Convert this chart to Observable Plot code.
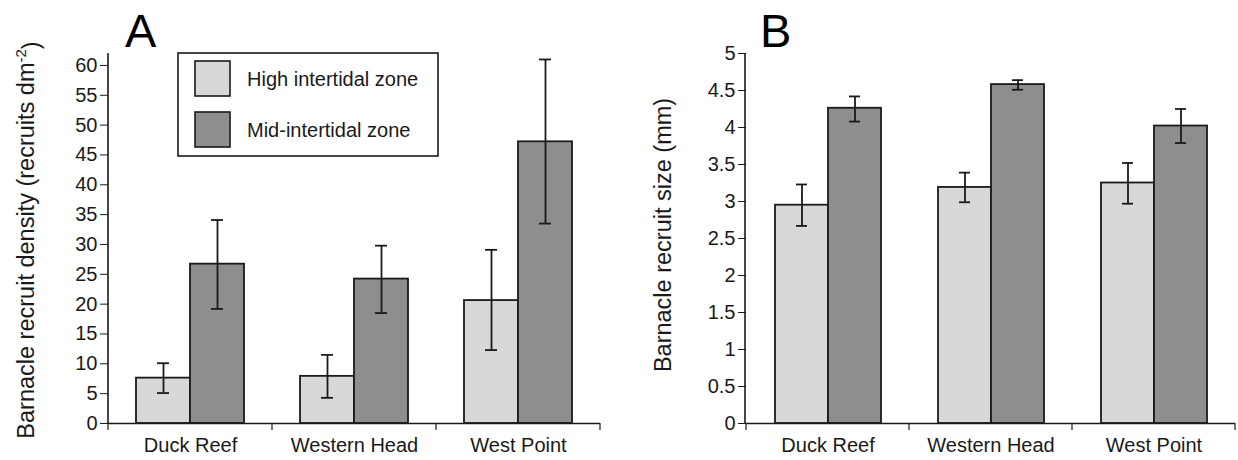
<!DOCTYPE html>
<html><head><meta charset="utf-8">
<script src="https://cdn.jsdelivr.net/npm/d3@7"></script>
<script src="https://cdn.jsdelivr.net/npm/@observablehq/plot@0.6"></script>
<style>
body{margin:0;background:#fff;}
#wrap{display:flex;width:1238px;height:460px;overflow:hidden;}
svg{display:block;}
</style></head><body><div id="wrap"></div>
<script>
// ---- shared categories ----
const sites = ["Duck Reef", "Western Head", "West Point"];
const zones = ["High intertidal zone", "Mid-intertidal zone"];
const zoneColors = ["#d8d8d8", "#8e8e8e"];

// ---- Panel A: recruit density (recruits dm^-2) ----
const densityHigh     = [7.6, 7.9, 20.6];
const densityHighLow  = [5.1, 4.3, 12.3];
const densityHighHigh = [10.1, 11.5, 29.1];
const densityMid      = [26.7, 24.2, 47.2];
const densityMidLow   = [19.2, 18.5, 33.5];
const densityMidHigh  = [34.1, 29.8, 61.0];
const densityTicks = [0, 5, 10, 15, 20, 25, 30, 35, 40, 45, 50, 55, 60];

// ---- Panel B: recruit size (mm) ----
const sizeHigh     = [2.95, 3.19, 3.25];
const sizeHighLow  = [2.67, 2.99, 2.97];
const sizeHighHigh = [3.23, 3.39, 3.52];
const sizeMid      = [4.26, 4.58, 4.02];
const sizeMidLow   = [4.08, 4.51, 3.79];
const sizeMidHigh  = [4.42, 4.64, 4.25];
const sizeTicks = [0, 0.5, 1, 1.5, 2, 2.5, 3, 3.5, 4, 4.5, 5];

function table(hi, hiLo, hiHi, mid, midLo, midHi) {
  return sites.flatMap((s, i) => [
    {site: s, zone: zones[0], mean: hi[i], low: hiLo[i], high: hiHi[i]},
    {site: s, zone: zones[1], mean: mid[i], low: midLo[i], high: midHi[i]}
  ]);
}

const INK = "#1a1a1a";
const FONT = "'Liberation Sans', Arial, Helvetica, sans-serif";

function panel(o) {
  const chart = Plot.plot({
    width: o.width, height: 460,
    marginLeft: o.marginLeft, marginRight: o.marginRight, marginTop: 53, marginBottom: 37,
    style: {fontFamily: FONT, fontSize: "20px", color: INK, background: "#fff", overflow: "visible"},
    fx: {domain: sites, padding: 0, label: null},
    x: {domain: zones, paddingInner: 0, paddingOuter: 0.51, axis: null},
    y: {domain: o.yDomain, label: null},
    color: {domain: zones, range: zoneColors},
    marks: [
      Plot.axisY({ticks: o.yTicks, tickSize: 8, tickPadding: 3, tickFormat: d => String(d), label: null, fontSize: 20}),
      Plot.axisFx({anchor: "bottom", tickSize: 0, tickPadding: 14, label: null, fontSize: 20}),
      Plot.barY(o.data, {fx: "site", x: "zone", y: "mean", fill: "zone", stroke: INK, strokeWidth: 1.8}),
      Plot.ruleX(o.data, {fx: "site", x: "zone", y1: "low", y2: "high", stroke: INK, strokeWidth: 1.8}),
      Plot.tickY(o.data, {fx: "site", x: "zone", y: "low", insetLeft: 21, insetRight: 21, stroke: INK, strokeWidth: 1.8}),
      Plot.tickY(o.data, {fx: "site", x: "zone", y: "high", insetLeft: 21, insetRight: 21, stroke: INK, strokeWidth: 1.8}),
      Plot.ruleY([0], {stroke: INK, strokeWidth: 1.6})
    ]
  });

  const svg = d3.select(chart);
  const y = chart.scale("y");
  const fx = chart.scale("fx");
  const y0 = y.apply(0), yTop = y.apply(o.yDomain[1]);

  // vertical axis line
  svg.append("line")
    .attr("x1", o.marginLeft).attr("x2", o.marginLeft)
    .attr("y1", yTop).attr("y2", y0 + 0.8)
    .attr("stroke", INK).attr("stroke-width", 1.6);

  // category boundary ticks on the x axis
  const edges = sites.map(s => fx.apply(s)).concat([fx.apply(sites[sites.length - 1]) + fx.bandwidth]);
  svg.append("g").selectAll("line").data(edges).join("line")
    .attr("x1", d => d).attr("x2", d => d)
    .attr("y1", y0).attr("y2", y0 + 7)
    .attr("stroke", INK).attr("stroke-width", 1.2);

  // axis title (rotated)
  const t = svg.append("text")
    .attr("transform", `translate(${o.titleX},${o.titleY}) rotate(-90)`)
    .attr("text-anchor", "middle")
    .attr("fill", INK)
    .style("font-family", FONT).style("font-size", "23.5px")
    .text(o.title);
  if (o.titleSup) {
    t.append("tspan").attr("dy", "-0.55em").style("font-size", "15px").text(o.titleSup);
    t.append("tspan").attr("dy", "0.55em").text(o.titleEnd);
  }

  // panel letter
  svg.append("text")
    .attr("x", o.letterX).attr("y", 47)
    .attr("text-anchor", "start")
    .attr("fill", "#000")
    .style("font-family", FONT).style("font-size", "47px")
    .text(o.letter);

  // legend
  if (o.legend) {
    const g = svg.append("g");
    g.append("rect").attr("x", 178).attr("y", 53).attr("width", 260).attr("height", 103)
      .attr("fill", "#fff").attr("stroke", INK).attr("stroke-width", 1.6);
    zones.forEach((z, i) => {
      g.append("rect").attr("x", 195).attr("y", 61 + i * 51).attr("width", 35).attr("height", 35)
        .attr("fill", zoneColors[i]).attr("stroke", INK).attr("stroke-width", 1.6);
      g.append("text").attr("x", 247).attr("y", 86 + i * 51)
        .attr("text-anchor", "start")
        .attr("fill", INK)
        .style("font-family", FONT).style("font-size", "20px")
        .text(z);
    });
  }
  return chart;
}

const wrap = document.getElementById("wrap");
wrap.append(panel({
  data: table(densityHigh, densityHighLow, densityHighHigh, densityMid, densityMidLow, densityMidHigh),
  width: 620, marginLeft: 108, marginRight: 20,
  yDomain: [0, 62], yTicks: densityTicks,
  title: "Barnacle recruit density (recruits dm", titleSup: "-2", titleEnd: ")",
  titleX: 34, titleY: 240,
  letter: "A", letterX: 125, legend: true
}));
wrap.append(panel({
  data: table(sizeHigh, sizeHighLow, sizeHighHigh, sizeMid, sizeMidLow, sizeMidHigh),
  width: 618, marginLeft: 125, marginRight: 2,
  yDomain: [0, 5], yTicks: sizeTicks,
  title: "Barnacle recruit size (mm)",
  titleX: 51, titleY: 235,
  letter: "B", letterX: 140, legend: false
}));
</script></body></html>
